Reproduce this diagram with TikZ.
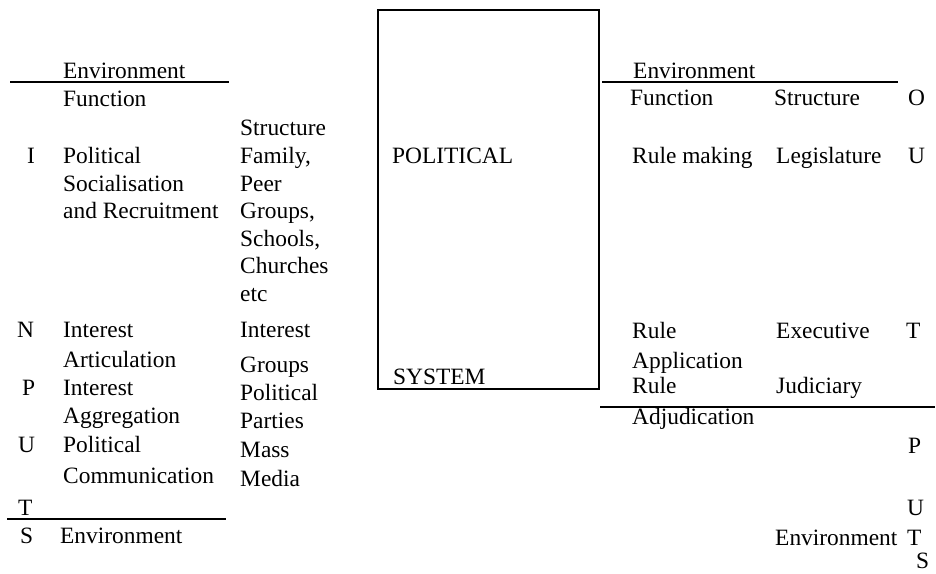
\documentclass[tikz,border=0pt]{standalone}
\usepackage{fontspec}
\setmainfont{Liberation Serif}
\begin{document}
\begin{tikzpicture}[x=1pt,y=-1pt,
  txt/.style={anchor=base west, inner sep=0pt, font=\fontsize{23.4}{28}\selectfont},
  rulebar/.style={line width=2pt}]
\useasboundingbox (0,0) rectangle (936,573);
% ---------- left: inputs ----------
\node[txt] (envTL) at (63,78) {Environment};
\coordinate (tlA) at (10,82); \coordinate (tlB) at (229,82);
\draw[rulebar] (tlA) -- (tlB);
\node[txt] (fnL) at (63,106) {Function};
\node[txt] (stL) at (240,135) {Structure};
\node[txt] (inI) at (27,163) {I};
\node[txt] (polsoc1) at (63,163) {Political};
\node[txt] (fam) at (240,163) {Family,};
\node[txt] (polsoc2) at (63,191) {Socialisation};
\node[txt] (peer) at (240,191) {Peer};
\node[txt] (polsoc3) at (63,218) {and Recruitment};
\node[txt] (grp1) at (240,218) {Groups,};
\node[txt] (sch) at (240,246) {Schools,};
\node[txt] (chu) at (240,273) {Churches};
\node[txt] (etc) at (240,301) {etc};
\node[txt] (inN) at (17,337) {N};
\node[txt] (ia1) at (63,337) {Interest};
\node[txt] (ig1) at (240,337) {Interest};
\node[txt] (ia2) at (63,367) {Articulation};
\node[txt] (ig2) at (240,372) {Groups};
\node[txt] (inP) at (22,395) {P};
\node[txt] (iag1) at (63,395) {Interest};
\node[txt] (pp1) at (240,400) {Political};
\node[txt] (iag2) at (63,423) {Aggregation};
\node[txt] (pp2) at (240,428) {Parties};
\node[txt] (inU) at (18,452) {U};
\node[txt] (pc1) at (63,452) {Political};
\node[txt] (mm1) at (240,457) {Mass};
\node[txt] (pc2) at (63,483) {Communication};
\node[txt] (mm2) at (240,486) {Media};
\node[txt] (inT) at (18,515) {T};
\coordinate (blA) at (7,519); \coordinate (blB) at (226,519);
\draw[rulebar] (blA) -- (blB);
\node[txt] (inS) at (20,543) {S};
\node[txt] (envBL) at (60,543) {Environment};
% ---------- centre box ----------
\node[draw, line width=2pt, inner sep=0pt, anchor=north west,
      minimum width=221pt, minimum height=379pt] (box) at (377,9) {};
\node[txt] (pol) at (392,163) {POLITICAL};
\node[txt] (sys) at (393,384) {SYSTEM};
% ---------- right: outputs ----------
\node[txt] (envTR) at (633,78) {Environment};
\coordinate (trA) at (602,82); \coordinate (trB) at (898,82);
\draw[rulebar] (trA) -- (trB);
\node[txt] (fnR) at (630,105) {Function};
\node[txt] (stR) at (774,105) {Structure};
\node[txt] (outO) at (908,105) {O};
\node[txt] (rm) at (632,163) {Rule making};
\node[txt] (leg) at (776,163) {Legislature};
\node[txt] (outU) at (908,163) {U};
\node[txt] (ra1) at (632,338) {Rule};
\node[txt] (exe) at (776,338) {Executive};
\node[txt] (outT) at (906,338) {T};
\node[txt] (ra2) at (632,368) {Application};
\node[txt] (rad1) at (632,393) {Rule};
\node[txt] (jud) at (776,393) {Judiciary};
\coordinate (brA) at (600,407); \coordinate (brB) at (935,407);
\draw[rulebar] (brA) -- (brB);
\node[txt] (rad2) at (632,424) {Adjudication};
\node[txt] (outP) at (908,453) {P};
\node[txt] (outU2) at (907,515) {U};
\node[txt] (envBR) at (775,545) {Environment};
\node[txt] (outT2) at (907,545) {T};
\node[txt] (outS) at (916,568) {S};
\end{tikzpicture}
\end{document}
